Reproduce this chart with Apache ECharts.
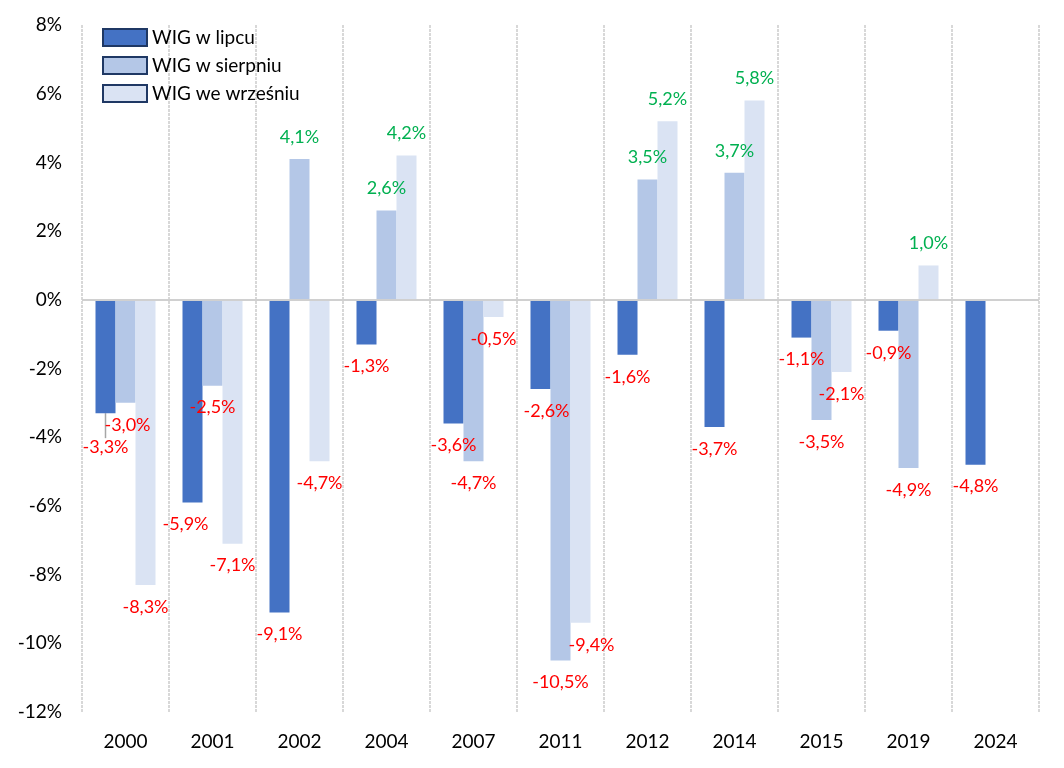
<!DOCTYPE html>
<html>
<head>
<meta charset="utf-8">
<script src="https://cdn.jsdelivr.net/npm/echarts@6/dist/echarts.min.js"></script>
<style>html,body{margin:0;padding:0;background:#fff}#c{width:1064px;height:768px}</style>
</head>
<body>
<div id="c"></div>
<script>
// ---- data ----
const categories = ['2000','2001','2002','2004','2007','2011','2012','2014','2015','2019','2024'];
const seriesNames = ['WIG w lipcu','WIG w sierpniu','WIG we wrześniu'];
const wigLipiec   = [-3.3, -5.9, -9.1, -1.3, -3.6, -2.6, -1.6, -3.7, -1.1, -0.9, -4.8];
const wigSierpien = [-3.0, -2.5,  4.1,  2.6, -4.7, -10.5, 3.5,  3.7, -3.5, -4.9, null];
const wigWrzesien = [-8.3, -7.1, -4.7,  4.2, -0.5, -9.4,  5.2,  5.8, -2.1,  1.0, null];
const yTicks = {min: -12, max: 8, interval: 2};

// ---- styling ----
const colors = ['#4472C4', '#B4C7E7', '#DAE3F3'];
const FONT = 'Lato, "Noto Sans", sans-serif';
const labelShift = { '0-0': [0, 12], '0-1': [-7, 0], '0-5': [6, 0], '2-5': [11, 0], '1-0': [2, 0] };
const leaderLines = { '0-0': true };

function fmt(v) { return v.toFixed(1).replace('.', ',') + '%'; }

function buildData(vals, si) {
  return vals.map((v, i) => {
    if (v === null) return null;
    const lead = !!leaderLines[si + '-' + i];
    return {
      value: v,
      label: {
        position: v >= 0 ? 'top' : 'bottom',
        color: v >= 0 ? '#00B050' : '#FF0000'
      },
      labelLine: lead
        ? { show: true, lineStyle: { color: '#A6A6A6', width: 1.5, opacity: 1 } }
        : { show: false, lineStyle: { opacity: 0 } }
    };
  });
}

const allVals = [wigLipiec, wigSierpien, wigWrzesien];
const series = allVals.map((vals, si) => ({
  name: seriesNames[si],
  type: 'bar',
  barWidth: 20,
  barGap: '0%',
  itemStyle: { color: colors[si] },
  data: buildData(vals, si),
  label: {
    show: true,
    distance: 13,
    fontFamily: FONT,
    fontSize: 18,
    formatter: p => fmt(p.value)
  },
  labelLine: si === 0 ? { show: true, lineStyle: { color: '#A6A6A6', width: 1.5 } } : undefined,
  labelLayout: function (p) {
    const s = labelShift[p.seriesIndex + '-' + p.dataIndex];
    return s ? { dx: s[0], dy: s[1] } : {};
  },
  markLine: si === 0 ? {
    silent: true,
    symbol: 'none',
    label: { show: false },
    lineStyle: { color: '#D0D0D0', type: 'solid', width: 2 },
    data: [{ yAxis: 0 }]
  } : undefined
}));

const chart = echarts.init(document.getElementById('c'), null, { renderer: 'canvas' });
chart.setOption({
  animation: false,
  backgroundColor: '#fff',
  grid: { left: 82, right: 25, top: 25, bottom: 56, containLabel: false },
  legend: {
    orient: 'vertical',
    left: 97,
    top: 23,
    itemWidth: 44,
    itemHeight: 17,
    itemGap: 9,
    icon: 'rect',
    textStyle: { fontFamily: FONT, fontSize: 19, lineHeight: 19, color: '#000' },
    itemStyle: { borderColor: '#1F3864', borderWidth: 2 },
    data: seriesNames
  },
  xAxis: {
    type: 'category',
    data: categories,
    boundaryGap: true,
    axisLine: { show: false },
    axisTick: { show: false },
    axisLabel: { fontFamily: FONT, fontSize: 19, color: '#000', margin: 20 },
    splitLine: { show: true, lineStyle: { color: '#CCCCCC', type: [3, 1], width: 1.5 } }
  },
  yAxis: {
    type: 'value',
    min: yTicks.min,
    max: yTicks.max,
    interval: yTicks.interval,
    axisLine: { show: false },
    axisTick: { show: false },
    splitLine: { show: false },
    axisLabel: { fontFamily: FONT, fontSize: 19, color: '#000', margin: 20, formatter: v => v + '%' }
  },
  series: series
});
</script>
</body>
</html>
